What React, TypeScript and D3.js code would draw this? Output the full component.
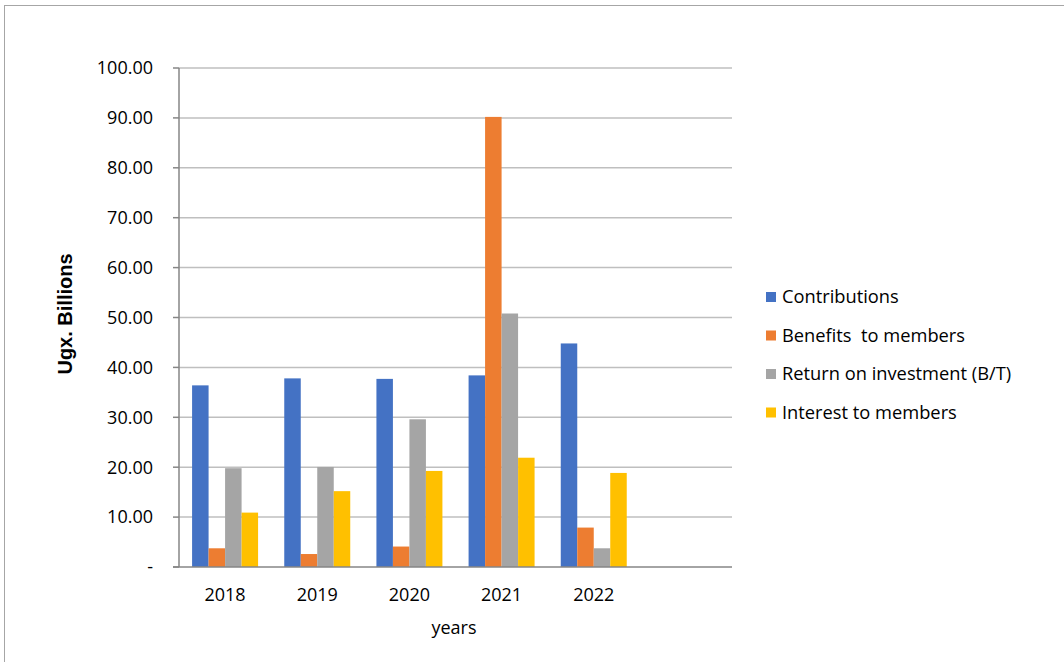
import React from "react";
import * as d3 from "d3";

const years = ["2018", "2019", "2020", "2021", "2022"];
const seriesNames = ["Contributions", "Benefits  to members", "Return on investment (B/T)", "Interest to members"];
const contributions = [36.4, 37.8, 37.7, 38.4, 44.8];
const benefits = [3.75, 2.6, 4.1, 90.2, 7.9];
const returnOnInvestment = [19.8, 20.05, 29.6, 50.8, 3.75];
const interest = [10.9, 15.2, 19.25, 21.9, 18.85];
const colors = ["#4472C4", "#ED7D31", "#A5A5A5", "#FFC000"];
const yTicks = [0, 10, 20, 30, 40, 50, 60, 70, 80, 90, 100];

const seriesValues = [contributions, benefits, returnOnInvestment, interest];

export default function App() {
  const W = 1064, H = 662;
  const left = 179, right = 732, top = 68, bottom = 567;
  const x = d3.scaleBand<string>().domain([...years, ""]).range([left, right]).padding(0);
  const bw = x.bandwidth();
  const inner = d3.scaleBand<string>().domain(seriesNames).range([bw * 0.142, bw * 0.858]).padding(0);
  const y = d3.scaleLinear().domain([0, 100]).range([bottom, top]);
  const font = "'Open Sans', 'Liberation Sans', Arial, sans-serif";
  const fmt = (v: number) => (v === 0 ? "-" : d3.format(".2f")(v));

  return (
    <svg width={W} height={H} style={{ position: "absolute", left: 0, top: 0, background: "#fff" }} fontFamily={font}>
      <rect x={4.5} y={5.5} width={W + 10} height={H + 10} fill="#fff" stroke="#a6a6a6" strokeWidth={1} />
      {yTicks.filter((t) => t > 0).map((t) => (
        <line key={"g" + t} x1={left} x2={right} y1={y(t)} y2={y(t)} stroke="#bfbfbf" strokeWidth={1.5} />
      ))}
      {seriesValues.map((vals, si) =>
        years.map((yr, i) => (
          <rect
            key={si + "-" + yr}
            x={(x(yr) as number) + (inner(seriesNames[si]) as number)}
            y={y(vals[i])}
            width={inner.bandwidth()}
            height={y(0) - y(vals[i])}
            fill={colors[si]}
          />
        ))
      )}
      <line x1={left} x2={left} y1={top} y2={bottom} stroke="#868686" strokeWidth={1.5} />
      <line x1={left - 6} x2={right} y1={bottom} y2={bottom} stroke="#868686" strokeWidth={1.5} />
      {yTicks.map((t) => (
        <g key={"t" + t}>
          <line x1={left - 6} x2={left} y1={y(t)} y2={y(t)} stroke="#868686" strokeWidth={1.5} />
          <text x={153} y={y(t)} dy="0.35em" textAnchor="end" fontSize={18} fill="#000">
            {fmt(t)}
          </text>
        </g>
      ))}
      {years.map((yr) => (
        <text key={"x" + yr} x={(x(yr) as number) + bw / 2} y={595} dy="0.35em" textAnchor="middle" fontSize={18} fill="#000">
          {yr}
        </text>
      ))}
      <text x={454} y={628} dy="0.35em" textAnchor="middle" fontSize={18} fill="#000">years</text>
      <text transform={`translate(65,314) rotate(-90)`} textAnchor="middle" dy="0.35em" fontSize={20} fontWeight="bold" fontFamily="'Liberation Sans', Arial, sans-serif" fill="#000">
        Ugx. Billions
      </text>
      {seriesNames.map((s, i) => (
        <g key={"l" + s} transform={`translate(766,${297 + i * 38.5})`}>
          <rect x={0} y={-5} width={10} height={10} fill={colors[i]} />
          <text x={16} y={0} dy="0.35em" fontSize={18.3} fill="#000" style={{ whiteSpace: "pre" }}>{s}</text>
        </g>
      ))}
    </svg>
  );
}
